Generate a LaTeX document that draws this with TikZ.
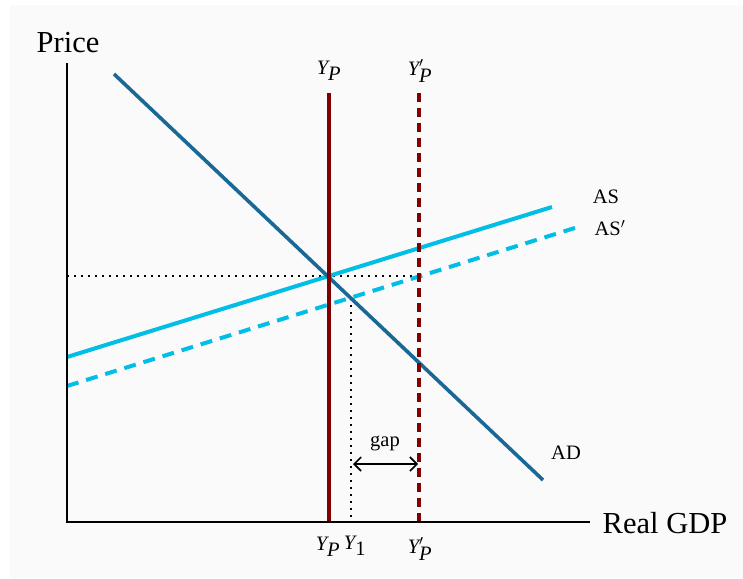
\documentclass[tikz,border=0pt]{standalone}
\usepackage{fontspec}
\setmainfont{Liberation Serif}
\usetikzlibrary{arrows.meta}
\definecolor{bgpanel}{RGB}{250,250,250}
\definecolor{adblue}{RGB}{25,104,150}
\definecolor{ascyan}{RGB}{0,190,230}
\definecolor{ypred}{RGB}{128,0,0}
\tikzset{
  axisline/.style={line width=2pt, black},
  adline/.style={line width=3.6pt, adblue},
  asline/.style={line width=4pt, ascyan},
  asdash/.style={asline, dash pattern=on 12pt off 8pt},
  ypline/.style={line width=4pt, ypred},
  ypdash/.style={ypline, dash pattern=on 9pt off 6pt},
  dotline/.style={line width=1.8pt, black, dash pattern=on 1.8pt off 5.2pt},
  biglabel/.style={font=\fontsize{30.5}{33}\selectfont, inner sep=0pt},
  smalllabel/.style={font=\fontsize{20.5}{22}\selectfont, inner sep=0pt},
}
\begin{document}
\begin{tikzpicture}[x=1pt,y=-1pt]
\useasboundingbox (0,0) rectangle (743,578);
\fill[bgpanel] (10,5) rectangle (743,578);

% coordinates
\coordinate (O) at (67,522);
\coordinate (ytop) at (67,63);
\coordinate (xend) at (590,522);
\coordinate (ad1) at (114,74);
\coordinate (ad2) at (543,480);
\coordinate (as1) at (67,357);
\coordinate (as2) at (552,207);
\coordinate (asp1) at (67,386);
\coordinate (asp2) at (578,227);
\coordinate (yp1) at (329,93);
\coordinate (yp2) at (329,522);
\coordinate (ypp1) at (419,93);
\coordinate (ypp2) at (419,522);
\coordinate (hd1) at (67,276);
\coordinate (hd2) at (419,276);
\coordinate (vd1) at (351,298);
\coordinate (vd2) at (351,522);
\coordinate (g1) at (353,464);
\coordinate (g2) at (418,464);

% dotted guides
\draw[dotline] (hd1) -- (hd2);
\draw[dotline] (vd1) -- (vd2);

% AS curves
\draw[asline] (as1) -- (as2);
\draw[asdash] (asp1) -- (asp2);

% AD
\draw[adline] (ad1) -- (ad2);

% potential output
\draw[ypline] (yp1) -- (yp2);
\draw[ypdash] (ypp1) -- (ypp2);

% axes
\draw[axisline] (ytop) -- (O) -- (xend);

% gap arrow
\draw[line width=1.6pt, {Straight Barb[length=7pt,width=14pt]}-{Straight Barb[length=7pt,width=14pt]}] (g1) -- (g2);

% labels
\node[biglabel] (price) at (68,43) {Price};
\node[biglabel] (rgdp) at (665,523) {Real GDP};
\node[smalllabel] (asl) at (606,197) {AS};
\node[smalllabel] (aspl) at (610,228) {AS$'$};
\node[smalllabel] (adl) at (566,453) {AD};
\node[smalllabel] (gapl) at (385,443) {gap};
\node[smalllabel] (yptop) at (329,71) {$\textit{Y}_{\textit{P}}$};
\node[smalllabel] (ypptop) at (420,71) {$\textit{Y}'_{\textit{P}}$};
\node[smalllabel] (ypbot) at (328,547) {$\textit{Y}_{\textit{P}}$};
\node[smalllabel] (y1bot) at (355,546) {$\textit{Y}_{\textrm{1}}$};
\node[smalllabel] (yppbot) at (420,549) {$\textit{Y}'_{\textit{P}}$};
\end{tikzpicture}
\end{document}
